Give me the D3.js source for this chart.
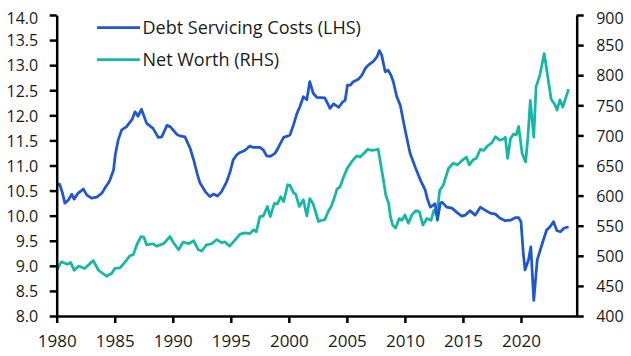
<!DOCTYPE html>
<html><head><meta charset="utf-8">
<script src="https://cdn.jsdelivr.net/npm/d3@7/dist/d3.min.js"></script>
<style>body{margin:0;background:#fff}svg{display:block}</style>
</head><body><svg id="c" width="631" height="356"></svg>
<script>
// ---- data ----
const dscYears = [1980.0,1980.25,1980.5,1980.7,1981.0,1981.3,1981.5,1981.85,1982.3,1982.6,1983.0,1983.45,1983.9,1984.15,1984.45,1984.6,1984.9,1985.05,1985.3,1985.6,1986.0,1986.5,1986.75,1987.0,1987.3,1987.75,1988.3,1988.75,1989.05,1989.5,1989.8,1990.35,1990.6,1991.05,1991.5,1991.8,1992.1,1992.35,1992.8,1993.2,1993.5,1993.85,1994.2,1994.65,1994.95,1995.2,1995.5,1995.8,1996.2,1996.65,1996.95,1997.5,1997.8,1998.1,1998.4,1998.8,1999.1,1999.55,1999.95,2000.1,2000.4,2000.7,2000.95,2001.25,2001.55,2001.8,2002.1,2002.4,2003.1,2003.55,2003.85,2004.3,2004.65,2004.85,2005.05,2005.3,2005.55,2006.0,2006.3,2006.6,2006.85,2007.3,2007.6,2007.8,2008.0,2008.3,2008.55,2008.8,2009.0,2009.3,2009.6,2009.9,2010.2,2010.45,2010.9,2011.3,2011.75,2011.95,2012.2,2012.45,2012.6,2012.8,2013.05,2013.2,2013.6,2014.05,2014.5,2014.9,2015.2,2015.6,2016.05,2016.5,2016.9,2017.35,2017.8,2018.2,2018.65,2019.1,2019.5,2019.8,2020.0,2020.2,2020.35,2020.65,2020.85,2021.1,2021.4,2021.8,2022.2,2022.5,2022.8,2023.1,2023.4,2023.7,2024.1];
const dscValues = [10.62,10.63,10.45,10.25,10.31,10.43,10.33,10.45,10.53,10.41,10.35,10.37,10.45,10.55,10.65,10.72,10.91,11.22,11.51,11.71,11.77,11.92,12.07,11.98,12.12,11.84,11.74,11.56,11.57,11.80,11.77,11.62,11.59,11.57,11.34,11.11,10.84,10.65,10.48,10.38,10.43,10.39,10.48,10.68,10.88,11.11,11.21,11.26,11.30,11.39,11.36,11.36,11.31,11.19,11.18,11.24,11.36,11.56,11.59,11.61,11.81,12.04,12.17,12.37,12.31,12.67,12.44,12.36,12.35,12.14,12.23,12.16,12.27,12.30,12.60,12.60,12.67,12.72,12.80,12.94,13.00,13.08,13.17,13.29,13.20,12.87,12.90,12.80,12.67,12.37,12.20,11.84,11.51,11.24,10.96,10.73,10.51,10.32,10.17,10.21,10.24,9.91,10.25,10.27,10.17,10.15,10.06,9.99,10.01,10.10,10.01,10.17,10.11,10.05,10.03,9.95,9.90,9.91,9.96,9.96,9.88,9.25,8.92,9.12,9.38,8.31,9.12,9.42,9.71,9.78,9.88,9.70,9.68,9.75,9.78];

const nwYears = [1980.0,1980.4,1980.9,1981.2,1981.5,1981.9,1982.4,1983.15,1983.6,1984.3,1984.75,1985.0,1985.45,1985.9,1986.3,1986.6,1986.9,1987.25,1987.5,1987.75,1988.3,1988.6,1989.2,1989.75,1990.05,1990.5,1990.9,1991.35,1991.8,1992.2,1992.5,1992.9,1993.35,1993.8,1994.2,1994.5,1994.9,1995.35,1995.8,1996.2,1996.65,1996.95,1997.2,1997.5,1997.8,1998.15,1998.4,1998.75,1999.0,1999.3,1999.55,1999.9,2000.1,2000.4,2000.6,2000.9,2001.25,2001.55,2001.8,2002.1,2002.55,2002.85,2003.1,2003.4,2003.65,2003.95,2004.15,2004.4,2004.7,2005.0,2005.4,2005.85,2006.15,2006.45,2006.8,2007.15,2007.45,2007.7,2007.95,2008.15,2008.35,2008.6,2008.75,2008.95,2009.2,2009.5,2009.75,2010.0,2010.3,2010.6,2010.95,2011.25,2011.55,2011.9,2012.25,2012.5,2012.75,2013.0,2013.3,2013.75,2014.15,2014.5,2014.9,2015.3,2015.55,2015.85,2016.15,2016.5,2016.8,2017.1,2017.5,2017.8,2018.15,2018.5,2018.65,2018.85,2019.1,2019.35,2019.6,2019.8,2020.1,2020.4,2020.6,2020.8,2021.1,2021.3,2021.6,2022.0,2022.35,2022.6,2022.9,2023.1,2023.35,2023.6,2024.1];
const nwValues = [476,490,486,489,476,483,479,492,476,466,471,479,480,490,500,502,518,532,531,518,520,516,520,532,522,510,523,520,525,510,508,518,520,527,522,523,516,526,536,538,537,543,540,565,566,582,565,587,586,598,590,618,617,605,602,582,593,566,595,586,557,559,560,574,582,598,611,614,630,644,656,666,664,670,677,675,676,677,648,626,601,587,565,551,546,562,559,568,554,568,575,573,551,562,559,576,567,609,617,645,654,651,658,664,651,659,662,677,675,682,688,698,692,694,697,662,695,702,701,715,670,656,698,758,697,781,798,836,792,760,752,742,759,747,777];

const leftTicks = [8.0,8.5,9.0,9.5,10.0,10.5,11.0,11.5,12.0,12.5,13.0,13.5,14.0];
const rightTicks = [400,450,500,550,600,650,700,750,800,850,900];
const xTicks = [1980,1985,1990,1995,2000,2005,2010,2015,2020];
const seriesNames = ["Debt Servicing Costs (LHS)", "Net Worth (RHS)"];
const seriesColors = ["#1f56d2", "#13b8a6"];

// ---- layout ----
const L = 56.7, R = 576.7, T = 15, B = 316;
const FONT = "'Open Sans', 'Noto Sans', sans-serif";
const svg = d3.select("#c");

const x = d3.scaleLinear().domain([1980, 2024.8]).range([L, R]);
const yL = d3.scaleLinear().domain([8, 14]).range([B, T]);
const yR = d3.scaleLinear().domain([400, 900]).range([B, T]);

function styleAxis(g, size) {
  g.select(".domain").attr("stroke", "#000").attr("stroke-width", 2.5);
  g.selectAll(".tick line").attr("stroke", "#000").attr("stroke-width", 2.5);
  g.selectAll(".tick text").attr("fill", "#1a1a1a").style("font-family", FONT).style("font-size", size + "px");
}

// lines
const dscData = dscYears.map((t, i) => [t, dscValues[i]]);
const nwData = nwYears.map((t, i) => [t, nwValues[i]]);

svg.append("path").datum(nwData)
  .attr("fill", "none").attr("stroke", seriesColors[1]).attr("stroke-width", 2.75)
  .attr("stroke-linejoin", "round")
  .attr("d", d3.line().x(d => x(d[0])).y(d => yR(d[1])));

svg.append("path").datum(dscData)
  .attr("fill", "none").attr("stroke", seriesColors[0]).attr("stroke-width", 2.75)
  .attr("stroke-linejoin", "round")
  .attr("d", d3.line().x(d => x(d[0])).y(d => yL(d[1])));

// axes
const gx = svg.append("g").attr("transform", `translate(0,${B})`)
  .call(d3.axisBottom(x).tickValues(xTicks).tickFormat(d3.format("d")).tickSize(7).tickSizeOuter(0));
styleAxis(gx, 17);
gx.selectAll(".tick text").attr("y", 30.5).attr("dy", 0);

const gl = svg.append("g").attr("transform", `translate(${L},0)`)
  .call(d3.axisLeft(yL).tickValues(leftTicks).tickFormat(d3.format(".1f")).tickSize(7).tickSizeOuter(0));
styleAxis(gl, 16);
gl.selectAll(".tick text").attr("x", -18.5).attr("dy", "0.36em")
  .filter(d => d === 14).attr("dy", "0.36em").attr("y", 2.8);

const gr = svg.append("g").attr("transform", `translate(${R},0)`)
  .call(d3.axisRight(yR).tickValues(rightTicks).tickFormat(d3.format("d")).tickSize(7).tickSizeOuter(0));
styleAxis(gr, 16);
gr.selectAll(".tick text").attr("x", 19.5).attr("dy", "0.36em")
  .filter(d => d === 900).attr("y", 2.8);

// legend
const legend = svg.append("g");
const legY = [27.7, 59.5];
seriesNames.forEach((name, i) => {
  legend.append("line").attr("x1", 97).attr("x2", 140).attr("y1", legY[i]).attr("y2", legY[i])
    .attr("stroke", seriesColors[i]).attr("stroke-width", 2.75);
  legend.append("text").attr("x", 142.5).attr("y", legY[i] + 6)
    .attr("fill", "#1a1a1a").style("font-family", FONT).style("font-size", "18px")
    .text(name);
});
</script></body></html>
